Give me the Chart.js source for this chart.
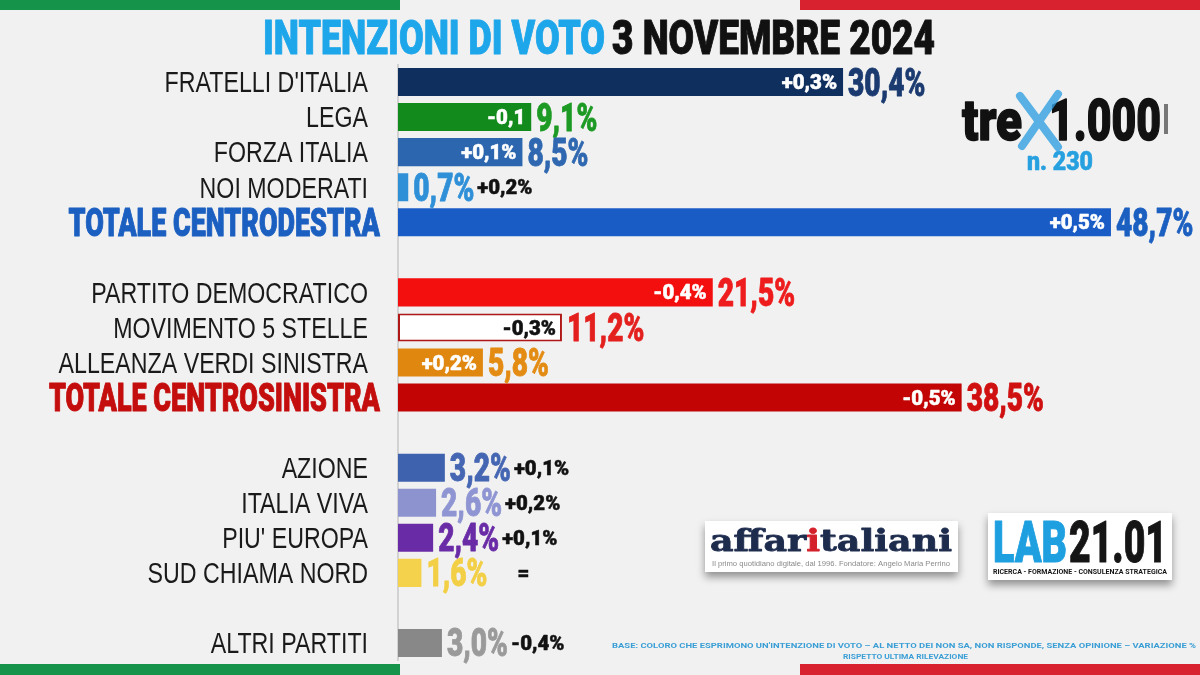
<!DOCTYPE html>
<html>
<head>
<meta charset="utf-8">
<script src="https://cdn.jsdelivr.net/npm/chart.js@4.4.1/dist/chart.umd.min.js"></script>
<style>
  html, body { margin: 0; padding: 0; background: #f1f1f1; }
  #wrap { width: 1200px; height: 675px; position: relative; }
</style>
</head>
<body>
<div id="wrap"><canvas id="voteChart" width="1200" height="675"></canvas></div>
<script>
// dati del sondaggio (righe vuote = separatori tra i gruppi)
const categories = ["FRATELLI D'ITALIA", 'LEGA', 'FORZA ITALIA', 'NOI MODERATI', 'TOTALE CENTRODESTRA', '',
  'PARTITO DEMOCRATICO', 'MOVIMENTO 5 STELLE', 'ALLEANZA VERDI SINISTRA', 'TOTALE CENTROSINISTRA', '',
  'AZIONE', 'ITALIA VIVA', "PIU' EUROPA", 'SUD CHIAMA NORD', '', 'ALTRI PARTITI'];
const values = [30.4, 9.1, 8.5, 0.7, 48.7, null, 21.5, 11.2, 5.8, 38.5, null, 3.2, 2.6, 2.4, 1.6, null, 3.0];
const changes = ['+0,3%', '-0,1', '+0,1%', '+0,2%', '+0,5%', '', '-0,4%', '-0,3%', '+0,2%', '-0,5%', '',
  '+0,1%', '+0,2%', '+0,1%', '=', '', '-0,4%'];

// colori
const barColors = ['#0f2f5f', '#128a1c', '#2c66ae', '#2f90d8', '#1a5cc6', null, '#f40f0f', '#ffffff', '#e0870f',
  '#c20404', null, '#3f62af', '#8d93cf', '#6a2ca6', '#f4d24c', null, '#888888'];
const valueColors = ['#1a3a70', '#1d9a24', '#2f68b0', '#2f90d8', '#1b5fc1', null, '#ee1c1c', '#e4201e', '#e38b12',
  '#d01010', null, '#4566b2', '#8e95d2', '#6a2ca6', '#f2cf45', null, '#9a9a9a'];
const totalColors = { 'TOTALE CENTRODESTRA': '#1b5fc1', 'TOTALE CENTROSINISTRA': '#c40d0d' };

const HEAVY = "Roboto, 'DejaVu Sans', sans-serif";
const NARROW = "'Liberation Sans', Arial, sans-serif";

function drawText(ctx, str, x, y, o) {
  ctx.save();
  ctx.font = (o.weight || 'normal') + ' ' + o.size + 'px ' + o.family;
  ctx.fillStyle = o.color;
  ctx.textAlign = o.align || 'left';
  ctx.textBaseline = 'alphabetic';
  ctx.translate(x, y + o.size * 0.71 / 2);
  ctx.scale(o.sx || 1, 1);
  if (o.stroke) {
    ctx.lineWidth = o.stroke;
    ctx.strokeStyle = o.color;
    ctx.lineJoin = 'round';
    ctx.strokeText(str, 0, 0);
  }
  ctx.fillText(str, 0, 0);
  const w = ctx.measureText(str).width * (o.sx || 1);
  ctx.restore();
  return w;
}

// testo compresso per riempire una larghezza data
function fitText(ctx, str, x, y, width, o) {
  ctx.save();
  ctx.font = (o.weight || 'normal') + ' ' + o.size + 'px ' + o.family;
  const w = ctx.measureText(str).width;
  ctx.restore();
  return drawText(ctx, str, x, y, Object.assign({}, o, { sx: width / w, align: 'left' }));
}

const framePlugin = {
  id: 'frame',
  beforeDraw(chart) {
    const ctx = chart.ctx;
    ctx.save();
    ctx.fillStyle = '#f1f1f1';
    ctx.fillRect(0, 0, chart.width, chart.height);
    ctx.fillStyle = '#16934a';
    ctx.fillRect(0, 0, 400, 10);
    ctx.fillRect(0, 664, 400, 11);
    ctx.fillStyle = '#d8222f';
    ctx.fillRect(800, 0, 400, 10);
    ctx.fillRect(800, 664, 400, 11);
    ctx.restore();
  }
};

const labelsPlugin = {
  id: 'barLabels',
  afterDatasetsDraw(chart) {
    const ctx = chart.ctx;
    const xs = chart.scales.x, ys = chart.scales.y;
    categories.forEach((name, i) => {
      const y = ys.getPixelForValue(i);
      if (!name) return;
      if (totalColors[name]) {
        drawText(ctx, name, ys.right - 18, y, { size: 38, weight: '900', family: HEAVY, color: totalColors[name], sx: 0.71, align: 'right', stroke: 1 });
      } else {
        drawText(ctx, name, ys.right - 30, y, { size: 29, family: NARROW, color: '#1a1a1a', sx: 0.8, align: 'right' });
      }
      const v = values[i];
      if (v == null) return;
      const end = xs.getPixelForValue(v);
      const w = drawText(ctx, v.toFixed(1).replace('.', ',') + '%', end + 5, y,
        { size: 38, weight: '900', family: HEAVY, color: valueColors[i], sx: 0.74, stroke: 0.8 });
      const deltaFont = { size: 20, weight: '900', family: HEAVY, sx: 1.02, stroke: 0.5 };
      if (v >= 5) {
        const c = barColors[i] === '#ffffff' ? '#111111' : '#ffffff';
        drawText(ctx, changes[i], end - 6, y, Object.assign({ color: c, align: 'right' }, deltaFont));
      } else {
        const gap = changes[i] === '=' ? 30 : 3;
        drawText(ctx, changes[i], end + 5 + w + gap, y, Object.assign({ color: '#111111' }, deltaFont));
      }
    });
  }
};

const decorPlugin = {
  id: 'decor',
  afterDraw(chart) {
    const ctx = chart.ctx;
    // titolo
    fitText(ctx, 'INTENZIONI DI VOTO', 263, 37, 342, { size: 48, weight: '900', family: HEAVY, color: '#1ea6ea', stroke: 1 });
    fitText(ctx, '3 NOVEMBRE 2024', 612, 37, 323, { size: 48, weight: '900', family: HEAVY, color: '#111111', stroke: 1 });

    // logo tre x 1.000
    fitText(ctx, 'tre', 962, 119, 60, { size: 58, weight: '900', family: HEAVY, color: '#111111', stroke: 1.5 });
    fitText(ctx, '1.000', 1049, 119, 112, { size: 58, weight: '900', family: HEAVY, color: '#111111', stroke: 1.5 });
    ctx.save();
    ctx.fillStyle = '#777777';
    ctx.fillRect(1164, 104, 4, 30);
    ctx.strokeStyle = 'rgba(50,160,225,0.8)';
    ctx.lineWidth = 8;
    ctx.lineCap = 'round';
    ctx.beginPath();
    ctx.moveTo(1020, 96); ctx.lineTo(1058, 147);
    ctx.moveTo(1058, 94); ctx.lineTo(1022, 146);
    ctx.stroke();
    ctx.restore();
    fitText(ctx, 'n. 230', 1027, 161, 66, { size: 26, weight: '900', family: HEAVY, color: '#27a0e0', stroke: 0.6 });

    // box loghi
    ctx.save();
    ctx.shadowColor = 'rgba(0,0,0,0.4)';
    ctx.shadowBlur = 8;
    ctx.shadowOffsetY = 5;
    ctx.fillStyle = '#ffffff';
    ctx.fillRect(705, 521, 253, 51);
    ctx.fillRect(988, 513, 184, 67);
    ctx.restore();

    ctx.save();
    ctx.font = 'bold 30px "DejaVu Serif", serif';
    const parts = ['affar', 'i', 'taliani'];
    const total = ctx.measureText(parts.join('')).width;
    const sx = 242 / total;
    let px = 710;
    parts.forEach((p, k) => {
      const w = drawText(ctx, p, px, 540, { size: 30, weight: 'bold', family: '"DejaVu Serif", serif', color: k === 1 ? '#d4202a' : '#1d2b4d', sx: sx, stroke: 0.8 });
      px += w;
    });
    ctx.restore();
    fitText(ctx, 'Il primo quotidiano digitale, dal 1996. Fondatore: Angelo Maria Perrino', 712, 564, 238,
      { size: 7, family: NARROW, color: '#8a8a8a' });

    fitText(ctx, 'LAB', 993, 541, 74, { size: 58, weight: '900', family: HEAVY, color: '#1d9fe0', stroke: 1 });
    fitText(ctx, '21.01', 1069, 541, 98, { size: 58, weight: '900', family: HEAVY, color: '#151515', stroke: 1 });
    fitText(ctx, 'RICERCA - FORMAZIONE - CONSULENZA STRATEGICA', 993, 571, 174,
      { size: 8, weight: 'bold', family: HEAVY, color: '#151515' });

    // nota metodologica
    fitText(ctx, "BASE: COLORO CHE ESPRIMONO UN'INTENZIONE DI VOTO – AL NETTO DEI NON SA, NON RISPONDE, SENZA OPINIONE – VARIAZIONE %",
      612, 645, 584, { size: 8, weight: 'bold', family: HEAVY, color: '#3b9fd6' });
    fitText(ctx, 'RISPETTO ULTIMA RILEVAZIONE', 843, 656, 125, { size: 8, weight: 'bold', family: HEAVY, color: '#3b9fd6' });
  }
};

const ctx = document.getElementById('voteChart').getContext('2d');
new Chart(ctx, {
  type: 'bar',
  data: {
    labels: categories,
    datasets: [{
      data: values,
      backgroundColor: barColors,
      borderColor: barColors.map(c => c === '#ffffff' ? '#b01818' : 'transparent'),
      borderWidth: barColors.map(c => c === '#ffffff' ? 2 : 0),
      borderSkipped: false,
      barPercentage: 0.8,
      categoryPercentage: 1
    }]
  },
  options: {
    indexAxis: 'y',
    responsive: false,
    animation: false,
    layout: { padding: { top: 64.5, bottom: 14.5, left: 0, right: 70 } },
    plugins: {
      legend: { display: false },
      tooltip: { enabled: false }
    },
    scales: {
      x: { display: false, min: 0, max: 50 },
      y: {
        afterFit: s => { s.width = 398; },
        ticks: { display: false },
        grid: { display: false },
        border: { display: true, color: '#d2d2d2', width: 2 }
      }
    }
  },
  plugins: [framePlugin, labelsPlugin, decorPlugin]
});
</script>
</body>
</html>
